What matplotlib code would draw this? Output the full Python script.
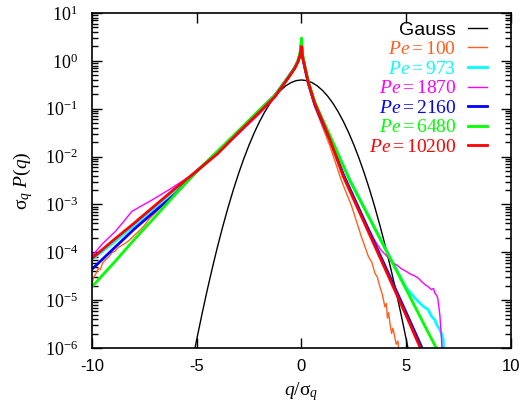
import numpy as np
import matplotlib
matplotlib.use('agg')
import matplotlib.pyplot as plt
from matplotlib.ticker import LogLocator, FixedLocator, FixedFormatter, NullFormatter, FuncFormatter

## data (x = q/sigma_q, y = sigma_q P(q))
gauss_x = [-5.25, -5.0, -4.75, -4.5, -4.25, -4.0, -3.75, -3.5, -3.25, -3.0, -2.75, -2.5, -2.25, -2.0,
           -1.75, -1.5, -1.25, -1.0, -0.75, -0.5, -0.25, 0.0, 0.25, 0.5, 0.75, 1.0, 1.25, 1.5, 1.75,
           2.0, 2.25, 2.5, 2.75, 3.0, 3.25, 3.5, 3.75, 4.0, 4.25, 4.5, 4.75, 5.0, 5.25]
gauss_y = [4.13e-7, 1.49e-6, 5.03e-6, 1.60e-5, 4.77e-5, 1.34e-4, 3.53e-4, 8.73e-4, 2.03e-3, 4.43e-3,
           9.09e-3, 1.75e-2, 3.17e-2, 5.40e-2, 8.63e-2, 0.130, 0.183, 0.242, 0.301, 0.352, 0.387, 0.399,
           0.387, 0.352, 0.301, 0.242, 0.183, 0.130, 8.63e-2, 5.40e-2, 3.17e-2, 1.75e-2, 9.09e-3,
           4.43e-3, 2.03e-3, 8.73e-4, 3.53e-4, 1.34e-4, 4.77e-5, 1.60e-5, 5.03e-6, 1.49e-6, 4.13e-7]

pe100_x = [-10.0, -9.95, -9.9, -9.8, -9.7, -9.6, -9.5, -9.44, -9.3, -9.2, -9.05, -8.9, -8.75, -8.57,
           -8.4, -8.2, -8.0, -7.78, -7.5, -7.3, -7.0, -6.5, -6.0, -5.0, -4.0, -3.0, -2.0, -1.27, -0.63,
           -0.32, -0.16, -0.06, 0.0, 0.05, 0.16, 0.32, 0.63, 1.0, 1.35, 1.9, 2.4, 2.86, 3.2, 3.35, 3.5,
           3.62, 3.74, 3.86, 3.98, 4.05, 4.1, 4.16, 4.22, 4.3, 4.36, 4.45, 4.52, 4.6, 4.65]
pe100_y = [2.2e-5, 2.6e-5, 3.1e-5, 3.6e-5, 4.6e-5, 4.3e-5, 5.8e-5, 6.3e-5, 7.3e-5, 7.9e-5, 9.8e-5, 1.05e-4,
           1.25e-4, 1.4e-4, 1.55e-4, 1.8e-4, 2.2e-4, 2.7e-4, 3.6e-4, 4.8e-4, 6.5e-4, 1.1e-3, 1.8e-3,
           4.8e-3, 1.22e-2, 3.3e-2, 8.8e-2, 0.18, 0.44, 0.68, 0.92, 1.2, 1.7, 1.05, 0.66, 0.31, 0.11,
           0.042, 0.017, 3.2e-3, 9.0e-4, 2.1e-4, 8.0e-5, 6.3e-5, 3.7e-5, 3.0e-5, 1.9e-5, 1.3e-5, 7.2e-6,
           8.5e-6, 4.2e-6, 5.5e-6, 3.3e-6, 2.0e-6, 2.6e-6, 1.7e-6, 1.2e-6, 1.4e-6, 8.0e-7]

pe973_x = [-10.0, -9.0, -8.0, -7.0, -6.0, -5.0, -4.0, -3.0, -2.0, -1.27, -0.63, -0.32, -0.16, -0.06,
           0.0, 0.05, 0.16, 0.32, 0.63, 1.0, 1.35, 2.3, 3.0, 4.0, 5.0, 5.5, 5.8, 6.05, 6.2, 6.36, 6.45,
           6.55, 6.6, 6.68, 6.76, 6.8]
pe973_y = [7.0e-5, 1.55e-4, 3.6e-4, 8.6e-4, 2.1e-3, 5.0e-3, 1.2e-2, 3.3e-2, 9.0e-2, 0.185, 0.45, 0.71,
           1.0, 1.5, 2.5, 1.3, 0.76, 0.37, 0.135, 0.058, 0.027, 3.3e-3, 8.4e-4, 1.2e-4, 1.8e-5, 1.0e-5,
           7.5e-6, 6.3e-6, 4.6e-6, 3.9e-6, 3.1e-6, 2.6e-6, 2.4e-6, 2.0e-6, 1.5e-6, 5.0e-7]

pe1870_x = [-10.0, -9.5, -8.89, -8.5, -8.1, -7.6, -7.14, -6.19, -5.0, -4.0, -3.0, -2.0, -1.27, -0.63,
            -0.32, -0.16, -0.06, 0.0, 0.05, 0.16, 0.32, 0.63, 1.0, 1.35, 2.0, 3.0, 3.5, 3.8, 4.0, 4.3,
            4.6, 4.77, 4.95, 5.2, 5.35, 5.57, 5.75, 5.9, 6.05, 6.2, 6.3, 6.36, 6.45, 6.5, 6.6, 6.68, 6.72]
pe1870_y = [8.3e-5, 1.5e-4, 2.7e-4, 4.3e-4, 7.1e-4, 9.5e-4, 1.23e-3, 2.2e-3, 4.8e-3, 1.17e-2, 3.0e-2,
            7.9e-2, 0.17, 0.43, 0.70, 0.98, 1.4, 2.2, 1.2, 0.73, 0.35, 0.128, 0.054, 0.023, 3.9e-3,
            4.6e-4, 1.75e-4, 1.1e-4, 9.0e-5, 6.3e-5, 5.2e-5, 4.5e-5, 4.1e-5, 3.5e-5, 3.3e-5, 2.9e-5,
            2.4e-5, 2.1e-5, 1.9e-5, 1.66e-5, 1.75e-5, 1.4e-5, 1.25e-5, 1.1e-5, 5.0e-6, 1.5e-6, 6.0e-7]

pe2160_x = [-10.0, -9.0, -8.0, -7.0, -6.0, -5.0, -4.0, -3.0, -2.0, -1.27, -0.63, -0.32, -0.16, -0.06,
            0.0, 0.05, 0.16, 0.32, 0.63, 1.0, 1.35, 2.0, 3.0, 4.0, 5.0, 5.75, 5.85]
pe2160_y = [4.4e-5, 1.15e-4, 3.0e-4, 7.2e-4, 1.7e-3, 4.9e-3, 1.26e-2, 3.4e-2, 9.3e-2, 0.19, 0.46, 0.72,
            1.0, 1.4, 2.3, 1.25, 0.72, 0.35, 0.125, 0.052, 0.023, 4.2e-3, 4.6e-4, 5.0e-5, 5.4e-6,
            1.0e-6, 7.0e-7]

pe6480_x = [-10.0, -9.0, -8.0, -7.0, -6.0, -5.0, -4.0, -3.0, -2.0, -1.27, -0.63, -0.32, -0.16, -0.06,
            0.0, 0.05, 0.16, 0.32, 0.63, 1.0, 1.35, 2.3, 3.0, 4.0, 5.0, 6.0, 6.43, 6.55]
pe6480_y = [1.9e-5, 5.7e-5, 1.8e-4, 5.4e-4, 1.66e-3, 4.9e-3, 1.3e-2, 3.5e-2, 9.5e-2, 0.19, 0.46, 0.72,
            1.05, 1.6, 3.0, 1.4, 0.78, 0.38, 0.14, 0.06, 0.028, 3.2e-3, 8.3e-4, 1.17e-4, 1.66e-5, 2.3e-6,
            1.0e-6, 8.0e-7]

pe10200_x = [-10.0, -9.0, -8.0, -7.0, -6.0, -5.0, -4.0, -3.0, -2.0, -1.27, -0.63, -0.32, -0.16, -0.06,
             0.0, 0.05, 0.16, 0.32, 0.63, 1.0, 1.35, 2.0, 3.0, 4.0, 5.0, 5.67, 5.8]
pe10200_y = [7.4e-5, 1.75e-4, 4.0e-4, 9.4e-4, 2.2e-3, 5.0e-3, 1.15e-2, 3.2e-2, 8.5e-2, 0.178, 0.44, 0.70,
             0.98, 1.35, 2.0, 1.2, 0.74, 0.36, 0.13, 0.055, 0.023, 3.8e-3, 4.1e-4, 4.4e-5, 4.7e-6,
             1.0e-6, 7.5e-7]

series = [
    ('Gauss', gauss_x, gauss_y, 'black', 1.0),
    (r'$Pe=100$', pe100_x, pe100_y, '#ff6020', 1.0),
    (r'$Pe=973$', pe973_x, pe973_y, '#00ffff', 2.0),
    (r'$Pe=1870$', pe1870_x, pe1870_y, '#ff00ff', 1.0),
    (r'$Pe=2160$', pe2160_x, pe2160_y, '#0000ff', 2.0),
    (r'$Pe=6480$', pe6480_x, pe6480_y, '#00ff00', 2.0),
    (r'$Pe=10200$', pe10200_x, pe10200_y, '#ff0000', 2.0),
]

plt.rcParams['mathtext.fontset'] = 'custom'
plt.rcParams['mathtext.rm'] = 'Liberation Serif'
plt.rcParams['mathtext.it'] = 'Liberation Serif:italic'
plt.rcParams['mathtext.bf'] = 'Liberation Serif:bold'

fig = plt.figure(figsize=(5.28, 4.07), dpi=100)
ax = fig.add_axes([0.174, 0.145, 0.794, 0.823])

for label, xs, ys, col, lw in series:
    ax.plot(xs, ys, color=col, lw=lw, label=label)

ax.set_yscale('log')
ax.set_xlim(-10, 10)
ax.set_ylim(1e-6, 10)

ax.xaxis.set_major_locator(FixedLocator([-10, -5, 0, 5, 10]))
ax.xaxis.set_major_formatter(FixedFormatter(['-10', '-5', '0', '5', '10']))
ax.yaxis.set_major_locator(LogLocator(base=10, numticks=20))
ax.yaxis.set_minor_locator(LogLocator(base=10, subs=np.arange(2, 10), numticks=20))
ax.yaxis.set_minor_formatter(NullFormatter())
ax.yaxis.set_major_formatter(FuncFormatter(lambda v, p: r'$10^{%d}$' % round(np.log10(v))))

ax.tick_params(which='both', direction='in', top=True, right=True)
ax.tick_params(which='major', length=7, width=1)
ax.tick_params(which='minor', length=4, width=1)
ax.tick_params(axis='x', labelsize=12, pad=8)
ax.tick_params(axis='y', labelsize=13, pad=10)
for t in ax.get_xticklabels():
    t.set_fontfamily('Liberation Sans')
for s in ax.spines.values():
    s.set_linewidth(1.2)

ax.set_xlabel(r'$q/\mathrm{\sigma}_q$', fontsize=14, labelpad=4)
ax.set_ylabel(r'$\mathrm{\sigma}_q\ P(q)$', fontsize=14, labelpad=7)

leg = ax.legend(loc='upper right', bbox_to_anchor=(0.943, 0.976), frameon=False, markerfirst=False,
                fontsize=14, handlelength=1.0, handletextpad=0.6, labelspacing=0.1, borderaxespad=0,
                borderpad=0)
for txt, (label, xs, ys, col, lw) in zip(leg.get_texts(), series):
    txt.set_color(col)
    txt.set_fontfamily('Liberation Sans' if label == 'Gauss' else 'Liberation Serif')

plt.savefig('out.png', dpi=100)
